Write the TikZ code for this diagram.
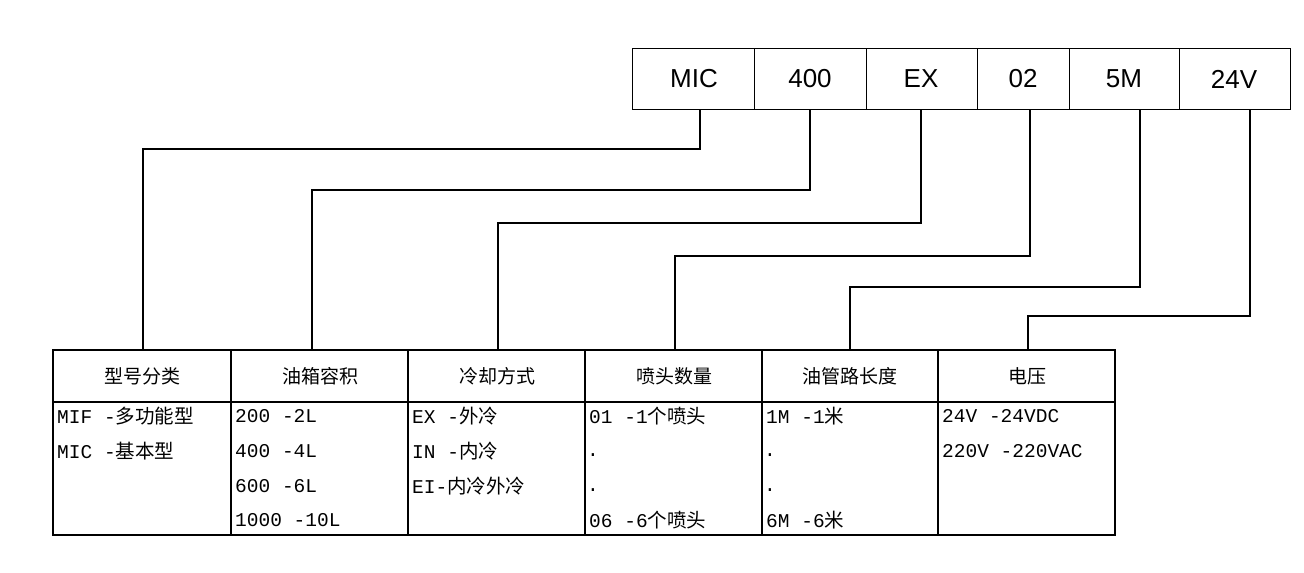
\documentclass[tikz,border=0pt]{standalone}
\usepackage{fontspec}
\setmainfont{Liberation Serif}
\setmonofont{Liberation Mono}
\newfontfamily\cjk{Noto Sans CJK SC}
\newfontfamily\lab{Liberation Sans}
\begin{document}
\begin{tikzpicture}[x=1pt,y=-1pt,
  wire/.style={line width=1.6pt},
  tbl/.style={line width=2pt},
  toplab/.style={font=\lab\fontsize{26}{26}\selectfont},
  head/.style={font=\cjk\fontsize{19}{19}\selectfont},
  cell/.style={anchor=west,font=\ttfamily\fontsize{19.5}{19.5}\selectfont,inner sep=0pt}]
\useasboundingbox (0,0) rectangle (1304,573);
% top boxes
\draw[line width=0.8pt] (632,48) rectangle (1290,109);
\foreach \x in {754,866,977,1069,1179}{\draw[line width=0.8pt] (\x,48)--(\x,109);}
\node[toplab] (t1) at (694,79) {MIC};
\node[toplab] (t2) at (810,79) {400};
\node[toplab] (t3) at (921,79) {EX};
\node[toplab] (t4) at (1023,79) {02};
\node[toplab] (t5) at (1124,79) {5M};
\node[toplab] (t6) at (1234,79) {24V};
% connectors
\foreach \xa/\yy/\xb in {700/149/143,810/190/312,921/223/498,1030/256/675,1140/287/850,1250/316/1028}{
  \draw[wire] (\xa,109)--(\xa,\yy)--(\xb,\yy)--(\xb,350);}
% table
\draw[tbl] (53,350) rectangle (1115,535);
\draw[tbl] (53,402)--(1115,402);
\foreach \x in {231,408,585,762,938}{\draw[tbl] (\x,350)--(\x,535);}
\node[head] (h1) at (142,376) {型号分类};
\node[head] (h2) at (320,376) {油箱容积};
\node[head] (h3) at (497,376) {冷却方式};
\node[head] (h4) at (674,376) {喷头数量};
\node[head] (h5) at (850,376) {油管路长度};
\node[head] (h6) at (1027,376) {电压};
\node[cell] (a1) at (57,416) {MIF -{\cjk 多功能型}};
\node[cell] (a2) at (57,451) {MIC -{\cjk 基本型}};
\node[cell] (b1) at (235,416) {200 -2L};
\node[cell] (b2) at (235,451) {400 -4L};
\node[cell] (b3) at (235,486) {600 -6L};
\node[cell] (b4) at (235,520) {1000 -10L};
\node[cell] (c1) at (412,416) {EX -{\cjk 外冷}};
\node[cell] (c2) at (412,451) {IN -{\cjk 内冷}};
\node[cell] (c3) at (412,486) {EI-{\cjk 内冷外冷}};
\node[cell] (d1) at (589,416) {01 -1{\cjk 个喷头}};
\node[cell] (d2) at (587,455) {.};
\node[cell] (d3) at (587,490) {.};
\node[cell] (d4) at (589,520) {06 -6{\cjk 个喷头}};
\node[cell] (e1) at (766,416) {1M -1{\cjk 米}};
\node[cell] (e2) at (764,455) {.};
\node[cell] (e3) at (764,490) {.};
\node[cell] (e4) at (766,520) {6M -6{\cjk 米}};
\node[cell] (f1) at (942,416) {24V -24VDC};
\node[cell] (f2) at (942,451) {220V -220VAC};
\end{tikzpicture}
\end{document}
